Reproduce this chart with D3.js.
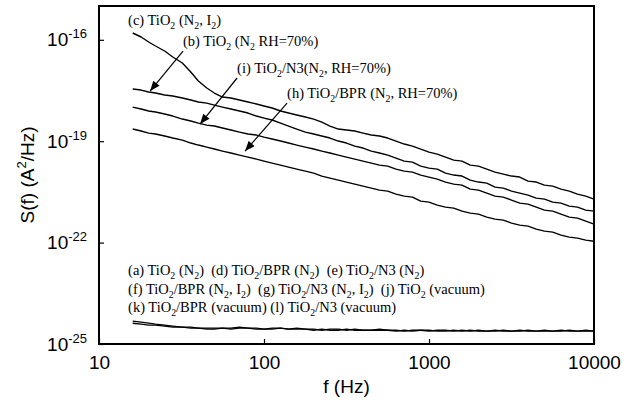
<!DOCTYPE html>
<html>
<head>
<meta charset="utf-8">
<script src="https://cdn.jsdelivr.net/npm/d3@7"></script>
<style>
  html, body { margin: 0; padding: 0; background: #fff; }
  svg { display: block; }
  .note { font-family: "Liberation Serif", "Times New Roman", serif; font-size: 14.5px; white-space: pre; }
  .lab { font-family: "Liberation Sans", Arial, Helvetica, sans-serif; font-size: 19px; }
</style>
</head>
<body>
<div id="chart"></div>
<script>
// frequency grid (Hz), shared by all curves
const freq = [16, 18, 20, 22, 25, 28, 32, 36, 40, 45, 50, 56, 63, 71, 80, 90,
  100, 112, 126, 141, 158, 178, 200, 224, 251, 282, 316, 355, 398, 447, 501, 562, 631, 708, 794, 891,
  1000, 1122, 1259, 1413, 1585, 1778, 1995, 2239, 2512, 2818, 3162, 3548, 3981, 4467, 5012, 5623, 6310, 7079, 7943, 8913,
  10000];

// (c) TiO2 (N2, I2)
const sC = [1.59e-16, 1.21e-16, 8.62e-17, 6.56e-17, 4.66e-17, 3.10e-17, 2.06e-17, 1.11e-17, 6.03e-18, 3.74e-18,
  2.66e-18, 2.03e-18, 1.89e-18, 1.65e-18, 1.44e-18, 1.26e-18, 1.10e-18, 9.58e-19, 7.81e-19, 6.81e-19,
  5.94e-19, 5.19e-19, 4.52e-19, 3.69e-19, 2.81e-19, 2.29e-19, 2.14e-19, 2.00e-19, 1.74e-19, 1.52e-19,
  1.42e-19, 1.24e-19, 1.01e-19, 8.24e-20, 7.18e-20, 5.86e-20, 4.77e-20, 4.16e-20, 3.39e-20, 2.76e-20,
  2.58e-20, 1.96e-20, 1.83e-20, 1.49e-20, 1.22e-20, 1.06e-20, 9.30e-21, 8.69e-21, 6.61e-21, 6.18e-21,
  5.03e-21, 4.70e-21, 3.83e-21, 3.34e-21, 2.72e-21, 2.38e-21, 1.94e-21];

// (b) TiO2 (N2 RH=70%)
const sB = [3.50e-18, 3.26e-18, 2.85e-18, 2.66e-18, 2.32e-18, 2.17e-18, 1.89e-18, 1.65e-18, 1.44e-18, 1.34e-18,
  1.17e-18, 1.02e-18, 8.95e-19, 7.81e-19, 6.81e-19, 5.55e-19, 4.84e-19, 4.23e-19, 3.44e-19, 2.81e-19,
  2.29e-19, 1.86e-19, 1.63e-19, 1.42e-19, 1.24e-19, 1.01e-19, 8.82e-20, 7.18e-20, 6.27e-20, 5.11e-20,
  4.46e-20, 3.89e-20, 3.17e-20, 2.58e-20, 2.41e-20, 1.83e-20, 1.60e-20, 1.49e-20, 1.14e-20, 9.96e-21,
  9.30e-21, 7.08e-21, 6.18e-21, 5.77e-21, 4.39e-21, 4.10e-21, 3.34e-21, 2.91e-21, 2.54e-21, 2.07e-21,
  1.94e-21, 1.58e-21, 1.47e-21, 1.20e-21, 1.12e-21, 9.16e-22, 8.56e-22];

// (i) TiO2/N3 (N2, RH=70%)
const sI = [1.02e-18, 8.95e-19, 7.81e-19, 7.30e-19, 6.36e-19, 5.55e-19, 4.52e-19, 3.95e-19, 3.44e-19, 3.00e-19,
  2.81e-19, 2.45e-19, 2.14e-19, 1.86e-19, 1.63e-19, 1.52e-19, 1.32e-19, 1.16e-19, 1.01e-19, 8.82e-20,
  7.69e-20, 6.71e-20, 5.86e-20, 5.11e-20, 4.46e-20, 3.89e-20, 3.39e-20, 2.96e-20, 2.58e-20, 2.25e-20,
  1.96e-20, 1.83e-20, 1.49e-20, 1.30e-20, 1.22e-20, 9.96e-21, 8.69e-21, 7.58e-21, 6.18e-21, 5.39e-21,
  5.03e-21, 3.83e-21, 3.58e-21, 2.91e-21, 2.38e-21, 2.22e-21, 1.81e-21, 1.47e-21, 1.38e-21, 1.12e-21,
  9.16e-22, 8.56e-22, 6.97e-22, 5.68e-22, 5.31e-22, 4.33e-22, 3.52e-22];

// (h) TiO2/BPR (N2, RH=70%)
const sH = [2.29e-19, 2.00e-19, 1.74e-19, 1.63e-19, 1.42e-19, 1.24e-19, 1.08e-19, 8.82e-20, 7.69e-20, 6.71e-20,
  5.86e-20, 5.11e-20, 4.46e-20, 3.89e-20, 3.39e-20, 2.96e-20, 2.58e-20, 2.25e-20, 1.96e-20, 1.71e-20,
  1.49e-20, 1.30e-20, 1.14e-20, 9.30e-21, 8.11e-21, 7.08e-21, 6.18e-21, 5.39e-21, 4.70e-21, 4.10e-21,
  3.58e-21, 3.34e-21, 2.72e-21, 2.38e-21, 2.22e-21, 1.69e-21, 1.58e-21, 1.29e-21, 1.12e-21, 1.05e-21,
  8.56e-22, 7.47e-22, 6.97e-22, 5.68e-22, 4.96e-22, 4.63e-22, 3.77e-22, 3.29e-22, 3.07e-22, 2.51e-22,
  2.19e-22, 2.04e-22, 1.66e-22, 1.45e-22, 1.36e-22, 1.18e-22, 1.10e-22];

// (a),(d),(e),(f),(g),(j),(k),(l): all sit on the floor and overlap
const sLow1 = [4.74e-25, 4.43e-25, 4.13e-25, 3.86e-25, 3.61e-25, 3.37e-25, 3.15e-25, 3.15e-25, 2.94e-25, 2.94e-25,
  2.94e-25, 2.94e-25, 2.94e-25, 3.15e-25, 2.94e-25, 2.94e-25, 2.75e-25, 2.94e-25, 2.94e-25, 2.75e-25,
  2.94e-25, 2.75e-25, 2.75e-25, 2.56e-25, 2.75e-25, 2.75e-25, 2.56e-25, 2.75e-25, 2.56e-25, 2.56e-25,
  2.75e-25, 2.56e-25, 2.56e-25, 2.40e-25, 2.56e-25, 2.56e-25, 2.40e-25, 2.56e-25, 2.56e-25, 2.40e-25,
  2.56e-25, 2.40e-25, 2.56e-25, 2.40e-25, 2.56e-25, 2.40e-25, 2.40e-25, 2.56e-25, 2.40e-25, 2.40e-25,
  2.56e-25, 2.40e-25, 2.40e-25, 2.56e-25, 2.40e-25, 2.40e-25, 2.40e-25];
const sLow2 = [4.13e-25, 3.86e-25, 3.61e-25, 3.61e-25, 3.37e-25, 3.15e-25, 3.15e-25, 2.94e-25, 2.94e-25, 2.75e-25,
  2.75e-25, 2.94e-25, 2.75e-25, 2.94e-25, 2.94e-25, 2.75e-25, 2.75e-25, 2.75e-25, 2.94e-25, 2.75e-25,
  2.75e-25, 2.75e-25, 2.56e-25, 2.75e-25, 2.56e-25, 2.56e-25, 2.75e-25, 2.56e-25, 2.56e-25, 2.56e-25,
  2.56e-25, 2.56e-25, 2.40e-25, 2.56e-25, 2.40e-25, 2.56e-25, 2.56e-25, 2.40e-25, 2.40e-25, 2.56e-25,
  2.40e-25, 2.56e-25, 2.40e-25, 2.40e-25, 2.40e-25, 2.56e-25, 2.40e-25, 2.40e-25, 2.56e-25, 2.40e-25,
  2.40e-25, 2.40e-25, 2.56e-25, 2.40e-25, 2.40e-25, 2.56e-25, 2.40e-25];

const xTicks = [10, 100, 1000, 10000];
const yTicks = [1e-25, 1e-22, 1e-19, 1e-16];
const yTickExp = ['-25', '-22', '-19', '-16'];

// labelled curves: text, where the text starts (f, S), arrow start and arrow tip (f, S)
const noteText = ['(c) TiO_2 (N_2, I_2)', '(b) TiO_2 (N_2 RH=70%)', '(i) TiO_2/N3(N_2, RH=70%)', '(h) TiO_2/BPR (N_2, RH=70%)'];
const noteAt = [[15.0, 2.74e-16], [32.3, 6.56e-17], [68.7, 1.04e-17], [138, 1.89e-18]];
const arrowFrom = [null, [32.3, 4.66e-17], [68.7, 7.41e-18], [138, 1.34e-18]];
const arrowTo = [null, [20.4, 3.05e-18], [41.0, 3.22e-19], [76.8, 5.11e-20]];

const legendLines = [
  '(a) TiO_2 (N_2)  (d) TiO_2/BPR (N_2)  (e) TiO_2/N3 (N_2)',
  '(f) TiO_2/BPR (N_2, I_2)  (g) TiO_2/N3 (N_2, I_2)  (j) TiO_2 (vacuum)',
  '(k) TiO_2/BPR (vacuum) (l) TiO_2/N3 (vacuum)'
];
const legendAt = [[15.0, 1.09e-23], [15.0, 2.98e-24], [15.0, 8.74e-25]];

const width = 633, height = 406;
const plotL = 99, plotR = 594, plotT = 6, plotB = 344;

const svg = d3.select('#chart').append('svg')
  .attr('width', width)
  .attr('height', height);

const x = d3.scaleLog().domain([10, 10000]).range([plotL, plotR]);
const y = d3.scaleLog().domain([1e-25, 1e-15]).range([plotB, plotT]);

// text with "_2" style subscripts
function richText(sel, str) {
  let back = 0;
  str.split(/(_\w)/).forEach(part => {
    if (!part) return;
    if (part[0] === '_') {
      sel.append('tspan').attr('font-size', '0.68em').attr('dy', 4 + back).text(part.slice(1));
      back = -4;
    } else {
      sel.append('tspan').attr('dy', back).text(part);
      back = 0;
    }
  });
}

// x axis
const gx = svg.append('g')
  .attr('transform', 'translate(0,' + plotB + ')')
  .call(d3.axisBottom(x).tickValues(xTicks).tickFormat(d3.format('d')).tickSize(-5).tickPadding(12));
gx.attr('font-size', null).attr('font-family', null);
gx.selectAll('text').attr('class', 'lab').attr('fill', '#000');

// y axis
const gy = svg.append('g')
  .attr('transform', 'translate(' + plotL + ',0)')
  .call(d3.axisLeft(y).tickValues(yTicks).tickSize(-5).tickPadding(12));
gy.attr('font-size', null).attr('font-family', null);
gy.selectAll('text').attr('class', 'lab').attr('fill', '#000')
  .each(function(d, i) {
    const t = d3.select(this).text('');
    t.append('tspan').text('10');
    t.append('tspan').attr('font-size', '13px').attr('dy', -8).text(yTickExp[i]);
  });
svg.selectAll('.domain').remove();
svg.selectAll('.tick line').attr('stroke', '#000').attr('stroke-width', 1.2);

// frame
svg.append('rect')
  .attr('x', plotL).attr('y', plotT)
  .attr('width', plotR - plotL).attr('height', plotB - plotT)
  .attr('fill', 'none').attr('stroke', '#000').attr('stroke-width', 2);

// axis titles
svg.append('text').attr('class', 'lab')
  .attr('x', (plotL + plotR) / 2).attr('y', 393)
  .attr('text-anchor', 'middle')
  .text('f (Hz)');
const yl = svg.append('text').attr('class', 'lab')
  .attr('transform', 'translate(34,' + (plotT + plotB) / 2 + ') rotate(-90)')
  .attr('text-anchor', 'middle');
yl.append('tspan').text('S(f) (A');
yl.append('tspan').attr('font-size', '13px').attr('dy', -8).text('2');
yl.append('tspan').attr('dy', 8).text('/Hz)');

// curves
const line = d3.line()
  .x((d, i) => x(freq[i]))
  .y(d => y(d));

[sLow1, sLow2].forEach(s => {
  svg.append('path').datum(s)
    .attr('d', line)
    .attr('fill', 'none').attr('stroke', '#000').attr('stroke-width', 1.4);
});
[sH, sI, sB, sC].forEach(s => {
  svg.append('path').datum(s)
    .attr('d', line)
    .attr('fill', 'none').attr('stroke', '#000').attr('stroke-width', 1.4)
    .attr('stroke-linejoin', 'round');
});

// arrow heads
svg.append('defs').append('marker')
  .attr('id', 'head')
  .attr('viewBox', '0 0 10 8')
  .attr('refX', 10).attr('refY', 4)
  .attr('markerWidth', 11).attr('markerHeight', 8)
  .attr('markerUnits', 'userSpaceOnUse')
  .attr('orient', 'auto')
  .append('path').attr('d', 'M0,0 L10,4 L0,8 Z').attr('fill', '#000');

noteText.forEach((txt, i) => {
  const t = svg.append('text').attr('class', 'note')
    .attr('x', x(noteAt[i][0])).attr('y', y(noteAt[i][1]));
  richText(t, txt);
  if (arrowFrom[i]) {
    svg.append('line')
      .attr('x1', x(arrowFrom[i][0])).attr('y1', y(arrowFrom[i][1]))
      .attr('x2', x(arrowTo[i][0])).attr('y2', y(arrowTo[i][1]))
      .attr('stroke', '#000').attr('stroke-width', 1.2)
      .attr('marker-end', 'url(#head)');
  }
});

legendLines.forEach((txt, i) => {
  const t = svg.append('text').attr('class', 'note')
    .attr('x', x(legendAt[i][0])).attr('y', y(legendAt[i][1]));
  richText(t, txt);
});
</script>
</body>
</html>
